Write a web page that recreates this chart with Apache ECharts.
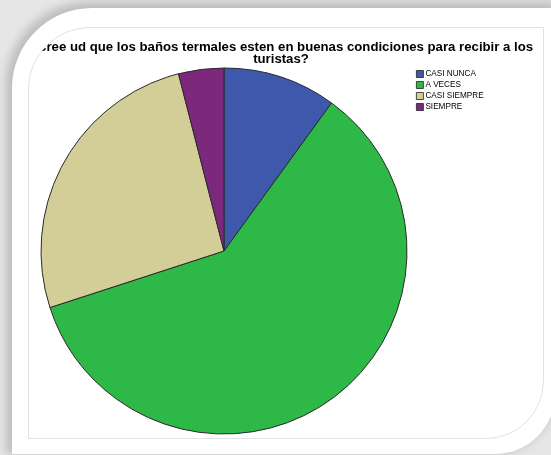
<!DOCTYPE html>
<html>
<head>
<meta charset="utf-8">
<script src="https://cdn.jsdelivr.net/npm/echarts@6/dist/echarts.min.js"></script>
<style>
  html, body { margin: 0; padding: 0; width: 551px; height: 455px; overflow: hidden; background: #e6e6e6; }
  #paper { position: absolute; left: 12px; top: 8px; width: 543px; height: 446px; background: #fff;
           border-radius: 80px 0 60px 0; box-shadow: -3px -3px 10px 3px rgba(0,0,0,0.18); }
  #frame { position: absolute; left: 28px; top: 27px; width: 514px; height: 410px;
           border: 1px solid #e2e2e2; border-radius: 62px 0 58px 0; overflow: hidden; background: #fff; }
  #chart { position: absolute; left: -29px; top: -28px; width: 551px; height: 455px; }
</style>
</head>
<body>
<div id="paper"></div>
<div id="frame"><div id="chart"></div></div>
<script>
const titleText = '¿Cree ud que los baños termales esten en buenas condiciones para recibir a los\nturistas?';
const categories = ['CASI NUNCA', 'A VECES', 'CASI SIEMPRE', 'SIEMPRE'];
const values = [5, 30, 13, 2];
const colors = ['#3E58AC', '#2EB848', '#D3CE97', '#7C287D'];

const chart = echarts.init(document.getElementById('chart'), null, { renderer: 'canvas' });
chart.setOption({
  animation: false,
  title: {
    text: titleText,
    left: 281,
    top: 41,
    textAlign: 'center',
    padding: 0,
    textStyle: { fontFamily: 'Liberation Sans, Arial, sans-serif', fontWeight: 'bold', fontSize: 13.2, lineHeight: 12, color: '#000' }
  },
  legend: {
    orient: 'vertical',
    left: 416,
    top: 70,
    padding: 0,
    itemWidth: 7,
    itemHeight: 7,
    itemGap: 3,
    icon: 'rect',
    data: categories,
    textStyle: { fontFamily: 'Liberation Sans, Arial, sans-serif', fontSize: 8.2, color: '#000', padding: [0, 0, 0, -3] },
    itemStyle: { borderColor: '#222', borderWidth: 0.8 }
  },
  series: [{
    type: 'pie',
    center: [224, 251],
    radius: 183,
    startAngle: 90,
    clockwise: true,
    label: { show: false },
    labelLine: { show: false },
    emphasis: { disabled: true },
    itemStyle: { borderColor: '#2a2a2a', borderWidth: 1 },
    data: categories.map((c, i) => ({ name: c, value: values[i], itemStyle: { color: colors[i] } }))
  }]
});
</script>
</body>
</html>
